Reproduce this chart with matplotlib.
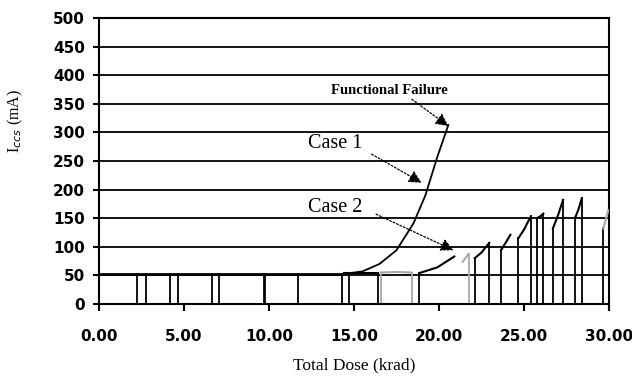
import matplotlib.pyplot as plt

# steady current before the rise (both cases sit here)
flat_dose = [0, 14.3]
flat_cur = [52, 52]

# Case 1: no annealing, runs to functional failure
case1_dose = [14.3, 15.5, 16.5, 17.5, 18.5, 19.2, 19.9, 20.55]
case1_cur = [52, 57, 70, 94, 141, 190, 257, 313]

# Case 2: pieces of the curve between annealing steps
c2_start = [14.4, 16.57, 18.84, 21.4, 22.1, 23.65, 24.67, 25.75, 26.7, 28.0, 29.67]
c2_mid = [15.4, 17.5, 19.9, 21.55, 22.5, 23.9, 25.0, 25.95, 27.0, 28.2, 29.8]
c2_end = [16.4, 18.4, 20.9, 21.72, 22.96, 24.2, 25.4, 26.14, 27.3, 28.4, 29.96]
c2_v0 = [55, 55, 54, 74, 80, 94, 115, 150, 132, 150, 132]
c2_vm = [55, 56, 64, 80, 90, 106, 130, 153, 155, 165, 146]
c2_v1 = [55, 55, 83, 87, 107, 121, 153, 158, 182, 185, 164]
c2_gray = [False, True, False, True, False, False, False, False, False, False, True]

# drops to zero current (annealing)
drop_dose = [2.25, 2.74, 4.18, 4.63, 6.63, 7.08, 9.72, 11.7, 14.27, 14.72,
             16.4, 16.57, 18.4, 18.84, 21.75, 22.1, 22.96, 23.65, 24.67,
             25.4, 25.75, 26.14, 26.7, 27.3, 28.0, 28.4, 29.67]
drop_top = [52, 52, 52, 52, 52, 52, 52, 52, 52, 55,
            55, 55, 55, 55, 87, 80, 107, 94, 115,
            153, 150, 158, 132, 182, 150, 185, 132]
drop_gray = [False] * 11 + [True, True, False, True] + [False] * 12

x_ticks = [0, 5, 10, 15, 20, 25, 30]
y_ticks = list(range(0, 501, 50))

fig = plt.figure(figsize=(6.32, 3.83), dpi=100)
ax = fig.add_axes([0.1566, 0.2063, 0.807, 0.7467])

for y in y_ticks:
    ax.axhline(y, color='black', lw=1.3, zorder=1)

gray = '#a8a8a8'
ax.plot(flat_dose, flat_cur, color='black', lw=2, zorder=3)
ax.plot(case1_dose, case1_cur, color='black', lw=1.3, zorder=3)
for i in range(len(c2_start)):
    ax.plot([c2_start[i], c2_mid[i], c2_end[i]], [c2_v0[i], c2_vm[i], c2_v1[i]],
            color=gray if c2_gray[i] else 'black', lw=1.5, zorder=3)
for d, t, g in zip(drop_dose, drop_top, drop_gray):
    ax.plot([d, d], [0, t], color=gray if g else 'black',
            lw=2 if d == 9.72 else 1.3, zorder=2)

ax.set_xlim(0, 30)
ax.set_ylim(0, 500)
ax.set_xticks(x_ticks)
ax.set_xticklabels(['%.2f' % v for v in x_ticks])
ax.set_yticks(y_ticks)
for s in ['left', 'right', 'bottom', 'top']:
    ax.spines[s].set_linewidth(1.5)
ax.spines['left'].set_bounds(-8, 500)
ax.spines['right'].set_bounds(-8, 500)
ax.spines['bottom'].set_bounds(0, 30)
ax.tick_params(axis='x', direction='out', length=5, width=1.5, pad=13)
ax.tick_params(axis='y', direction='out', length=4, width=1.5, pad=6)
for lab in ax.get_xticklabels() + ax.get_yticklabels():
    lab.set_fontweight('bold')
    lab.set_fontsize(11)

ax.set_xlabel('Total Dose (krad)', family='Liberation Serif', fontsize=12.5, labelpad=10)
ax.set_ylabel('I$_{ccs}$ (mA)', family='Liberation Serif', fontsize=11.5)
ax.yaxis.set_label_coords(-0.145, 0.64)

arrow = dict(arrowstyle='-|>', linestyle=(0, (1.5, 1.5)), color='black', lw=0.9,
             mutation_scale=19, shrinkA=0, shrinkB=0)
ax.annotate('Functional Failure', xy=(20.55, 313), xytext=(17.06, 374),
            family='Liberation Serif', fontweight='bold', fontsize=10.5,
            ha='center', va='center')
ax.annotate('', xy=(20.55, 311), xytext=(18.4, 358), arrowprops=arrow)
ax.text(13.9, 281, 'Case 1', family='Liberation Serif', fontsize=14.5,
        ha='center', va='center')
ax.annotate('', xy=(18.98, 212), xytext=(16.04, 262), arrowprops=arrow)
ax.text(13.9, 168, 'Case 2', family='Liberation Serif', fontsize=14.5,
        ha='center', va='center')
ax.annotate('', xy=(20.85, 94), xytext=(16.3, 157), arrowprops=arrow)

fig.savefig('out.png', dpi=100)
